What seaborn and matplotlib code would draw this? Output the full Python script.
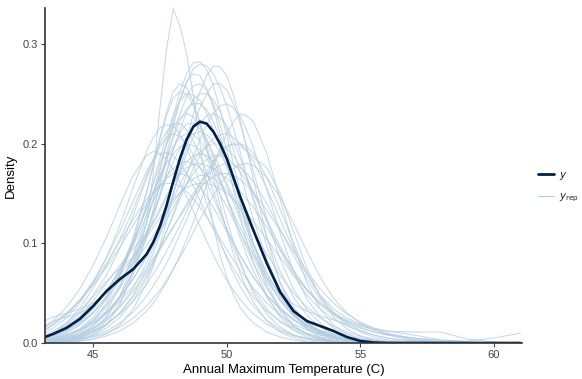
import numpy as np
import pandas as pd
import matplotlib
matplotlib.use("Agg")
import matplotlib.pyplot as plt
from matplotlib.lines import Line2D
import seaborn as sns

# density grid (C): finer steps around the peaks
grid = [43.0, 43.5, 44.0, 44.5, 45.0, 45.5, 46.0, 46.5,
        47.0, 47.25, 47.5, 47.75, 48.0, 48.25, 48.5, 48.75, 49.0, 49.25, 49.5, 49.75,
        50.0, 50.25, 50.5, 50.75, 51.0,
        51.5, 52.0, 52.5, 53.0, 53.5, 54.0, 54.5, 55.0, 55.5, 56.0,
        57.0, 58.0, 59.0, 60.0, 61.0]

y_dens = [0.004, 0.009, 0.015, 0.024, 0.037, 0.052, 0.064, 0.074,
          0.089, 0.101, 0.117, 0.138, 0.162, 0.185, 0.204, 0.217, 0.222, 0.220, 0.212, 0.200,
          0.185, 0.166, 0.147, 0.130, 0.113,
          0.080, 0.051, 0.032, 0.022, 0.017, 0.012, 0.006, 0.002, 0.0005, 0.0,
          0.0, 0.0, 0.0, 0.0, 0.0]

# replicated (yrep) densities, estimated from the light curves
yrep_dens = [
    [0, 0, 0.001, 0.003, 0.008, 0.018, 0.038, 0.072, 0.120, 0.170, 0.235, 0.295, 0.335, 0.318, 0.290, 0.248, 0.200, 0.155, 0.118, 0.088, 0.066, 0.049, 0.036, 0.027, 0.020, 0.011, 0.006, 0.003, 0.001, 0, 0, 0, 0, 0, 0, 0, 0, 0, 0, 0],
    [0, 0.001, 0.003, 0.008, 0.017, 0.032, 0.056, 0.088, 0.128, 0.151, 0.175, 0.199, 0.222, 0.244, 0.262, 0.275, 0.280, 0.278, 0.270, 0.256, 0.238, 0.216, 0.192, 0.167, 0.142, 0.097, 0.061, 0.036, 0.020, 0.010, 0.005, 0.002, 0.001, 0, 0, 0, 0, 0, 0, 0],
    [0.002, 0.005, 0.010, 0.018, 0.030, 0.046, 0.068, 0.098, 0.138, 0.161, 0.185, 0.208, 0.228, 0.243, 0.250, 0.249, 0.243, 0.230, 0.214, 0.196, 0.176, 0.156, 0.136, 0.118, 0.100, 0.070, 0.046, 0.029, 0.017, 0.010, 0.005, 0.003, 0.001, 0, 0, 0, 0, 0, 0, 0],
    [0.001, 0.003, 0.006, 0.011, 0.019, 0.030, 0.045, 0.064, 0.088, 0.101, 0.115, 0.130, 0.145, 0.159, 0.172, 0.183, 0.192, 0.197, 0.200, 0.199, 0.195, 0.188, 0.178, 0.166, 0.152, 0.122, 0.093, 0.068, 0.048, 0.034, 0.024, 0.017, 0.012, 0.008, 0.005, 0.002, 0.001, 0, 0, 0],
    [0.006, 0.012, 0.020, 0.032, 0.048, 0.068, 0.095, 0.128, 0.165, 0.182, 0.197, 0.206, 0.210, 0.207, 0.200, 0.189, 0.176, 0.161, 0.146, 0.130, 0.115, 0.101, 0.088, 0.076, 0.066, 0.048, 0.034, 0.023, 0.015, 0.010, 0.006, 0.004, 0.002, 0.001, 0, 0, 0, 0, 0, 0],
    [0, 0.001, 0.002, 0.004, 0.008, 0.015, 0.026, 0.042, 0.065, 0.079, 0.095, 0.112, 0.130, 0.149, 0.168, 0.187, 0.204, 0.219, 0.230, 0.238, 0.240, 0.236, 0.228, 0.213, 0.196, 0.154, 0.110, 0.072, 0.044, 0.026, 0.015, 0.009, 0.005, 0.003, 0.001, 0, 0, 0, 0, 0],
    [0.003, 0.007, 0.012, 0.020, 0.031, 0.045, 0.062, 0.083, 0.108, 0.121, 0.135, 0.148, 0.160, 0.169, 0.176, 0.179, 0.180, 0.178, 0.175, 0.170, 0.165, 0.159, 0.152, 0.144, 0.136, 0.116, 0.094, 0.072, 0.053, 0.038, 0.028, 0.021, 0.017, 0.014, 0.012, 0.011, 0.011, 0.004, 0.001, 0],
    [0.010, 0.018, 0.029, 0.043, 0.062, 0.085, 0.112, 0.142, 0.172, 0.183, 0.190, 0.191, 0.188, 0.180, 0.170, 0.157, 0.143, 0.128, 0.114, 0.100, 0.087, 0.075, 0.064, 0.055, 0.046, 0.032, 0.022, 0.015, 0.010, 0.006, 0.004, 0.002, 0.001, 0, 0, 0, 0, 0, 0, 0],
    [0, 0.001, 0.002, 0.005, 0.010, 0.018, 0.030, 0.048, 0.074, 0.090, 0.108, 0.128, 0.150, 0.173, 0.196, 0.217, 0.236, 0.250, 0.260, 0.260, 0.254, 0.240, 0.220, 0.197, 0.172, 0.124, 0.084, 0.054, 0.033, 0.020, 0.011, 0.006, 0.003, 0.001, 0, 0, 0, 0, 0, 0],
    [0.004, 0.010, 0.018, 0.030, 0.046, 0.062, 0.075, 0.086, 0.110, 0.129, 0.150, 0.173, 0.195, 0.211, 0.220, 0.220, 0.215, 0.204, 0.190, 0.175, 0.158, 0.141, 0.124, 0.108, 0.092, 0.065, 0.043, 0.027, 0.016, 0.009, 0.005, 0.003, 0.001, 0, 0, 0, 0, 0, 0, 0],
    [0, 0.001, 0.002, 0.004, 0.007, 0.012, 0.020, 0.031, 0.047, 0.057, 0.068, 0.080, 0.094, 0.109, 0.124, 0.139, 0.154, 0.168, 0.180, 0.189, 0.196, 0.199, 0.200, 0.197, 0.190, 0.166, 0.134, 0.100, 0.070, 0.047, 0.031, 0.020, 0.013, 0.008, 0.005, 0.002, 0.001, 0, 0, 0],
    [0.001, 0.003, 0.007, 0.013, 0.022, 0.036, 0.055, 0.080, 0.112, 0.130, 0.148, 0.166, 0.182, 0.195, 0.205, 0.210, 0.212, 0.209, 0.202, 0.191, 0.178, 0.162, 0.146, 0.129, 0.112, 0.080, 0.054, 0.034, 0.021, 0.012, 0.007, 0.004, 0.002, 0.001, 0, 0, 0, 0, 0, 0],
    [0, 0.001, 0.002, 0.005, 0.011, 0.022, 0.040, 0.068, 0.108, 0.133, 0.160, 0.189, 0.218, 0.243, 0.262, 0.270, 0.268, 0.255, 0.236, 0.210, 0.182, 0.154, 0.126, 0.102, 0.080, 0.047, 0.026, 0.013, 0.006, 0.003, 0.001, 0, 0, 0, 0, 0, 0, 0, 0, 0],
    [0.005, 0.010, 0.017, 0.026, 0.038, 0.052, 0.068, 0.086, 0.106, 0.116, 0.126, 0.135, 0.144, 0.151, 0.156, 0.159, 0.160, 0.160, 0.158, 0.155, 0.150, 0.144, 0.138, 0.130, 0.122, 0.104, 0.086, 0.068, 0.053, 0.040, 0.030, 0.022, 0.016, 0.011, 0.008, 0.005, 0.003, 0.002, 0.005, 0.010],
    [0.008, 0.015, 0.025, 0.040, 0.060, 0.086, 0.118, 0.156, 0.192, 0.206, 0.216, 0.219, 0.218, 0.209, 0.196, 0.179, 0.160, 0.140, 0.120, 0.102, 0.085, 0.070, 0.057, 0.046, 0.037, 0.023, 0.014, 0.008, 0.005, 0.003, 0.001, 0, 0, 0, 0, 0, 0, 0, 0, 0],
    [0, 0.001, 0.003, 0.006, 0.011, 0.019, 0.030, 0.046, 0.068, 0.082, 0.096, 0.112, 0.128, 0.144, 0.160, 0.175, 0.188, 0.198, 0.205, 0.209, 0.210, 0.206, 0.200, 0.193, 0.186, 0.176, 0.150, 0.112, 0.075, 0.046, 0.026, 0.014, 0.007, 0.003, 0.001, 0, 0, 0, 0, 0],
    [0.015, 0.022, 0.026, 0.030, 0.038, 0.052, 0.072, 0.098, 0.128, 0.142, 0.156, 0.167, 0.175, 0.180, 0.182, 0.180, 0.176, 0.169, 0.160, 0.149, 0.137, 0.124, 0.111, 0.098, 0.085, 0.062, 0.043, 0.028, 0.018, 0.011, 0.006, 0.003, 0.002, 0.001, 0, 0, 0, 0, 0, 0],
    [0.001, 0.002, 0.004, 0.008, 0.014, 0.023, 0.036, 0.055, 0.080, 0.095, 0.112, 0.131, 0.150, 0.170, 0.190, 0.207, 0.220, 0.228, 0.230, 0.226, 0.218, 0.203, 0.186, 0.166, 0.146, 0.106, 0.072, 0.046, 0.028, 0.016, 0.009, 0.005, 0.002, 0.001, 0, 0, 0, 0, 0, 0],
    [0.001, 0.003, 0.007, 0.014, 0.026, 0.044, 0.070, 0.106, 0.152, 0.178, 0.204, 0.228, 0.246, 0.252, 0.250, 0.238, 0.222, 0.199, 0.174, 0.149, 0.124, 0.102, 0.082, 0.065, 0.050, 0.029, 0.016, 0.008, 0.004, 0.002, 0.001, 0, 0, 0, 0, 0, 0, 0, 0, 0],
    [0.001, 0.002, 0.005, 0.009, 0.015, 0.024, 0.036, 0.052, 0.071, 0.082, 0.093, 0.105, 0.116, 0.128, 0.140, 0.150, 0.160, 0.168, 0.174, 0.178, 0.180, 0.179, 0.176, 0.170, 0.162, 0.140, 0.114, 0.088, 0.064, 0.044, 0.029, 0.018, 0.011, 0.006, 0.003, 0.001, 0, 0, 0, 0],
    [0.002, 0.004, 0.008, 0.014, 0.024, 0.038, 0.058, 0.086, 0.122, 0.142, 0.164, 0.186, 0.206, 0.223, 0.235, 0.240, 0.240, 0.234, 0.222, 0.205, 0.186, 0.164, 0.142, 0.120, 0.100, 0.066, 0.042, 0.027, 0.018, 0.013, 0.009, 0.006, 0.004, 0.002, 0.001, 0, 0, 0, 0, 0],
    [0.012, 0.020, 0.030, 0.043, 0.058, 0.076, 0.096, 0.118, 0.140, 0.149, 0.158, 0.165, 0.170, 0.170, 0.168, 0.163, 0.156, 0.147, 0.136, 0.124, 0.112, 0.100, 0.088, 0.077, 0.066, 0.048, 0.034, 0.024, 0.017, 0.012, 0.008, 0.005, 0.003, 0.002, 0.001, 0, 0, 0, 0, 0],
    [0, 0, 0.001, 0.002, 0.004, 0.009, 0.018, 0.034, 0.060, 0.077, 0.098, 0.122, 0.148, 0.176, 0.204, 0.230, 0.252, 0.268, 0.278, 0.277, 0.268, 0.249, 0.224, 0.195, 0.164, 0.106, 0.060, 0.030, 0.014, 0.006, 0.002, 0.001, 0, 0, 0, 0, 0, 0, 0, 0],
    [0.003, 0.007, 0.013, 0.022, 0.035, 0.052, 0.074, 0.102, 0.134, 0.150, 0.166, 0.180, 0.190, 0.197, 0.200, 0.198, 0.194, 0.185, 0.174, 0.161, 0.146, 0.131, 0.116, 0.102, 0.088, 0.066, 0.050, 0.039, 0.032, 0.027, 0.023, 0.019, 0.015, 0.011, 0.008, 0.003, 0.001, 0, 0, 0],
    [0.004, 0.009, 0.016, 0.027, 0.042, 0.060, 0.078, 0.094, 0.110, 0.120, 0.132, 0.146, 0.160, 0.172, 0.182, 0.188, 0.190, 0.188, 0.182, 0.172, 0.160, 0.146, 0.130, 0.114, 0.098, 0.070, 0.047, 0.030, 0.018, 0.011, 0.006, 0.003, 0.002, 0.001, 0, 0, 0, 0, 0, 0],
    [0, 0, 0.001, 0.002, 0.004, 0.007, 0.012, 0.020, 0.032, 0.040, 0.050, 0.061, 0.074, 0.088, 0.104, 0.121, 0.140, 0.159, 0.178, 0.195, 0.210, 0.222, 0.230, 0.228, 0.222, 0.190, 0.144, 0.098, 0.060, 0.034, 0.018, 0.009, 0.004, 0.002, 0.001, 0, 0, 0, 0, 0],
    [0.010, 0.018, 0.028, 0.042, 0.060, 0.080, 0.102, 0.124, 0.144, 0.152, 0.158, 0.160, 0.160, 0.157, 0.152, 0.145, 0.136, 0.126, 0.116, 0.105, 0.094, 0.083, 0.073, 0.064, 0.055, 0.040, 0.028, 0.019, 0.013, 0.008, 0.005, 0.003, 0.002, 0.001, 0, 0, 0, 0, 0, 0],
    [0.002, 0.005, 0.010, 0.018, 0.030, 0.047, 0.070, 0.100, 0.138, 0.159, 0.180, 0.199, 0.216, 0.226, 0.230, 0.227, 0.218, 0.204, 0.186, 0.166, 0.146, 0.126, 0.106, 0.088, 0.072, 0.046, 0.028, 0.016, 0.009, 0.005, 0.003, 0.001, 0, 0, 0, 0, 0, 0, 0, 0],
    [0.002, 0.004, 0.008, 0.013, 0.021, 0.032, 0.046, 0.064, 0.086, 0.098, 0.110, 0.123, 0.136, 0.148, 0.160, 0.170, 0.178, 0.184, 0.188, 0.188, 0.186, 0.180, 0.172, 0.162, 0.150, 0.124, 0.097, 0.073, 0.054, 0.040, 0.030, 0.023, 0.018, 0.013, 0.009, 0.003, 0.001, 0, 0, 0],
    [0.004, 0.010, 0.020, 0.035, 0.055, 0.078, 0.104, 0.134, 0.168, 0.185, 0.200, 0.212, 0.220, 0.220, 0.214, 0.203, 0.188, 0.171, 0.152, 0.133, 0.114, 0.096, 0.080, 0.066, 0.053, 0.034, 0.021, 0.013, 0.008, 0.004, 0.002, 0.001, 0, 0, 0, 0, 0, 0, 0, 0],
    [0, 0.001, 0.002, 0.006, 0.013, 0.026, 0.047, 0.079, 0.120, 0.145, 0.172, 0.201, 0.228, 0.252, 0.270, 0.281, 0.282, 0.274, 0.258, 0.235, 0.208, 0.180, 0.151, 0.124, 0.099, 0.060, 0.034, 0.018, 0.009, 0.004, 0.002, 0.001, 0, 0, 0, 0, 0, 0, 0, 0],
    [0.001, 0.002, 0.005, 0.011, 0.022, 0.040, 0.066, 0.102, 0.150, 0.178, 0.206, 0.232, 0.252, 0.260, 0.256, 0.242, 0.220, 0.194, 0.166, 0.138, 0.112, 0.090, 0.070, 0.054, 0.041, 0.022, 0.011, 0.005, 0.002, 0.001, 0, 0, 0, 0, 0, 0, 0, 0, 0, 0],
    [0.001, 0.002, 0.004, 0.007, 0.012, 0.019, 0.029, 0.042, 0.059, 0.069, 0.080, 0.092, 0.105, 0.118, 0.132, 0.146, 0.160, 0.172, 0.183, 0.192, 0.198, 0.200, 0.198, 0.192, 0.182, 0.155, 0.124, 0.094, 0.068, 0.048, 0.034, 0.025, 0.019, 0.015, 0.012, 0.008, 0.003, 0.001, 0, 0],
    [0.012, 0.022, 0.036, 0.054, 0.078, 0.106, 0.138, 0.168, 0.188, 0.192, 0.190, 0.184, 0.174, 0.161, 0.147, 0.132, 0.117, 0.102, 0.088, 0.075, 0.063, 0.053, 0.044, 0.036, 0.029, 0.019, 0.012, 0.007, 0.004, 0.002, 0.001, 0, 0, 0, 0, 0, 0, 0, 0, 0],
    [0.001, 0.002, 0.004, 0.009, 0.017, 0.029, 0.047, 0.072, 0.105, 0.125, 0.147, 0.170, 0.193, 0.214, 0.232, 0.244, 0.250, 0.250, 0.244, 0.232, 0.215, 0.194, 0.171, 0.147, 0.124, 0.084, 0.054, 0.033, 0.020, 0.012, 0.007, 0.004, 0.002, 0.001, 0, 0, 0, 0, 0, 0],
    [0.002, 0.004, 0.008, 0.013, 0.020, 0.030, 0.042, 0.057, 0.075, 0.085, 0.095, 0.106, 0.117, 0.127, 0.137, 0.147, 0.155, 0.162, 0.167, 0.170, 0.170, 0.168, 0.164, 0.158, 0.151, 0.133, 0.113, 0.092, 0.072, 0.054, 0.040, 0.029, 0.021, 0.015, 0.010, 0.004, 0.001, 0, 0, 0],
    [0.003, 0.006, 0.012, 0.021, 0.034, 0.051, 0.074, 0.102, 0.134, 0.151, 0.168, 0.184, 0.197, 0.206, 0.210, 0.209, 0.203, 0.193, 0.179, 0.163, 0.146, 0.128, 0.111, 0.095, 0.080, 0.055, 0.036, 0.023, 0.014, 0.008, 0.005, 0.003, 0.001, 0, 0, 0, 0, 0, 0, 0],
    [0.020, 0.026, 0.030, 0.034, 0.040, 0.050, 0.064, 0.080, 0.098, 0.108, 0.119, 0.130, 0.141, 0.151, 0.159, 0.165, 0.168, 0.168, 0.165, 0.160, 0.153, 0.144, 0.134, 0.123, 0.112, 0.089, 0.068, 0.050, 0.036, 0.025, 0.017, 0.011, 0.007, 0.004, 0.002, 0.001, 0, 0, 0, 0],
    [0, 0.001, 0.002, 0.003, 0.006, 0.010, 0.016, 0.025, 0.037, 0.045, 0.053, 0.063, 0.074, 0.086, 0.098, 0.111, 0.124, 0.136, 0.148, 0.159, 0.168, 0.175, 0.179, 0.180, 0.178, 0.166, 0.146, 0.120, 0.092, 0.066, 0.045, 0.030, 0.020, 0.013, 0.009, 0.005, 0.002, 0.001, 0, 0],
    [0, 0.001, 0.003, 0.007, 0.014, 0.026, 0.045, 0.073, 0.110, 0.133, 0.158, 0.184, 0.208, 0.230, 0.247, 0.258, 0.260, 0.254, 0.240, 0.219, 0.194, 0.167, 0.140, 0.115, 0.092, 0.056, 0.032, 0.017, 0.009, 0.004, 0.002, 0.001, 0, 0, 0, 0, 0, 0, 0, 0],
]

x_ticks = [45, 50, 55, 60]
y_ticks = [0.0, 0.1, 0.2, 0.3]

DARK = "#011f4b"
LIGHT = "#b3cde0"

for curve in yrep_dens:
    assert len(curve) == len(grid)
assert len(y_dens) == len(grid)

# long format for seaborn
rep_df = pd.DataFrame([
    {"temp": g, "density": d, "rep": i}
    for i, curve in enumerate(yrep_dens)
    for g, d in zip(grid, curve)
])
obs_df = pd.DataFrame({"temp": grid, "density": y_dens})

sns.set_theme(style="ticks")
plt.rcParams["font.family"] = ["Liberation Sans", "DejaVu Sans"]

fig = plt.figure(figsize=(5.82, 3.79), dpi=100)
ax = fig.add_axes([45 / 582, 1 - 343 / 379, (522 - 45) / 582, (343 - 8) / 379])

sns.lineplot(data=rep_df, x="temp", y="density", units="rep", estimator=None,
             color=LIGHT, alpha=0.8, linewidth=0.7, ax=ax, legend=False)
sns.lineplot(data=obs_df, x="temp", y="density", color=DARK, linewidth=1.9,
             ax=ax, legend=False)

ax.set_xlim(43.2, 61.05)
ax.set_ylim(0, 0.336)
ax.set_xticks(x_ticks)
ax.set_yticks(y_ticks)
ax.set_xticklabels([str(t) for t in x_ticks])
ax.set_yticklabels([f"{t:.1f}" for t in y_ticks])
ax.tick_params(labelsize=8, colors="#444444", length=3, width=0.8, pad=2)
ax.set_xlabel("Annual Maximum Temperature (C)", fontsize=9.5, color="black", labelpad=3)
ax.set_ylabel("Density", fontsize=9.5, color="black", labelpad=4)
for side in ["top", "right"]:
    ax.spines[side].set_visible(False)
for side in ["left", "bottom"]:
    ax.spines[side].set_color("#333333")
    ax.spines[side].set_linewidth(1.2)

handles = [Line2D([], [], color=DARK, linewidth=2.0),
           Line2D([], [], color=LIGHT, linewidth=0.8)]
fig.legend(handles, [r"$y$", r"$y_{\mathrm{rep}}$"], loc="center left",
           bbox_to_anchor=(538 / 582, 1 - 187 / 379), frameon=False,
           fontsize=7.5, handlelength=1.5, handletextpad=0.5, labelspacing=0.9,
           borderpad=0, borderaxespad=0)

fig.savefig("out.png", dpi=100)
